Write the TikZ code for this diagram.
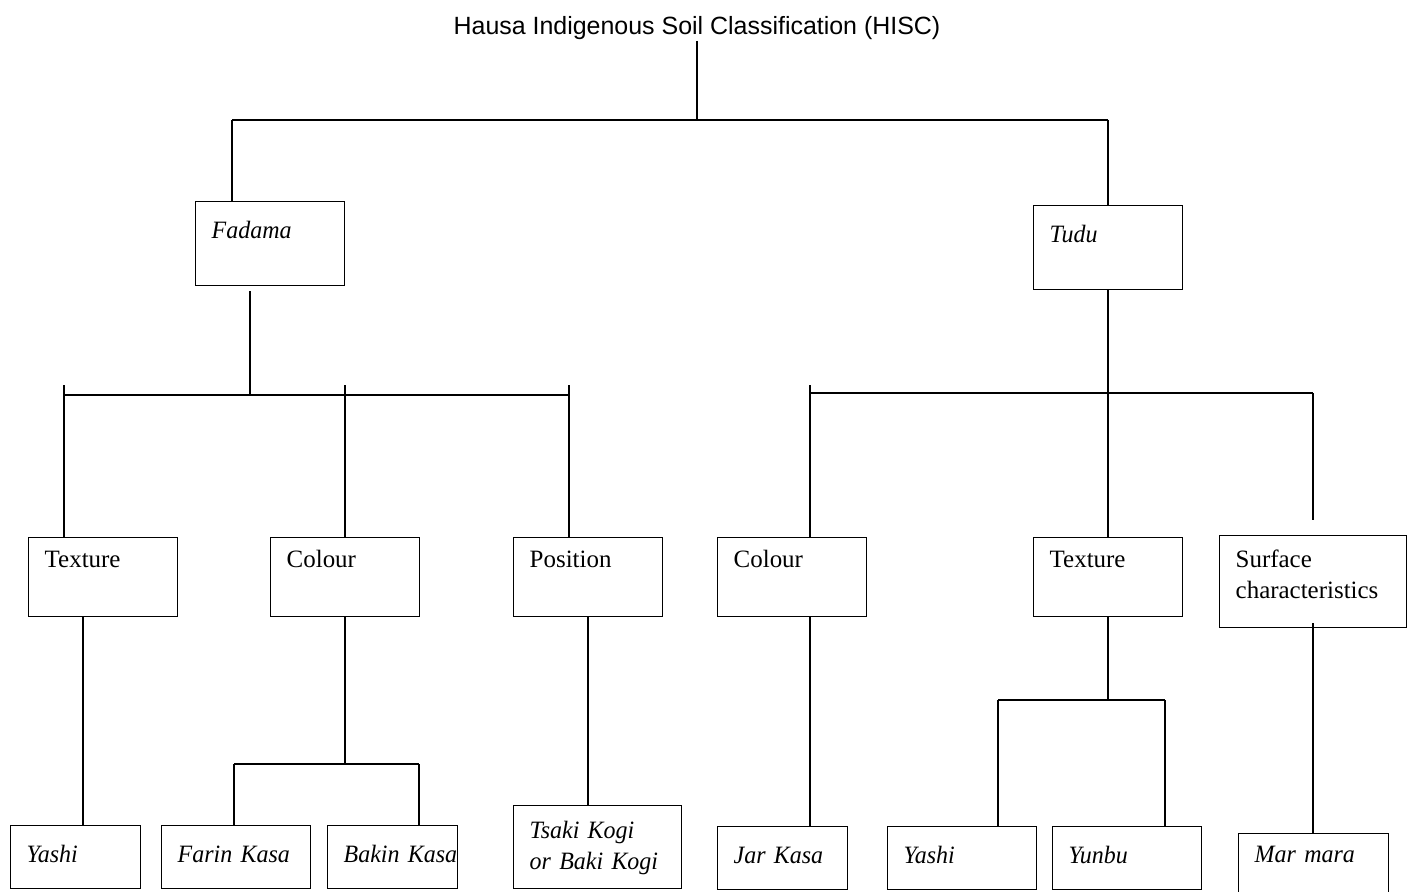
\documentclass[tikz,border=0pt]{standalone}
\usepackage{fontspec}
\setmainfont{Liberation Serif}[ItalicFeatures={FakeStretch=0.96}]
\setsansfont{Liberation Sans}
\usetikzlibrary{calc}

\begin{document}
\begin{tikzpicture}[x=0.02cm,y=-0.02cm,line width=0.8pt,
    boite/.style={draw,anchor=north west,align=left,inner xsep=0.32cm,inner ysep=0pt,
      font=\fontsize{14.2}{17.6}\selectfont},
    lnormale/.style={text width=2.34cm},
    letroite/.style={text width=1.96cm},
    niveau1/.style={text height=0.74cm,text depth=0.94cm},
    niveau2/.style={text height=0.60cm,text depth=0.98cm},
    niveaubas/.style={text height=0.74cm,text depth=0.52cm}]

    \useasboundingbox (0,0) rectangle (1411,892);

    % Titre de la classification
    \node[font=\sffamily\fontsize{14.2}{17}\selectfont,inner sep=0pt,anchor=base] (titre) at (697,35) {Hausa Indigenous Soil Classification (HISC)};

    % Les deux grandes classes
    \node[boite,lnormale,niveau1] (fadama) at (195,201) {\itshape Fadama};
    \node[boite,lnormale,niveau1] (tudu) at (1033,205) {\itshape Tudu};

    % Les criteres
    \node[boite,lnormale,niveau2] (texture1) at (28,537) {Texture};
    \node[boite,lnormale,niveau2] (couleur1) at (270,537) {Colour};
    \node[boite,lnormale,niveau2] (position) at (513,537) {Position};
    \node[boite,lnormale,niveau2] (couleur2) at (717,537) {Colour};
    \node[boite,lnormale,niveau2] (texture2) at (1033,537) {Texture};
    \node[boite,text width=3.10cm,text height=0.64cm,text depth=1.20cm] (surface) at (1219,535) {Surface\\characteristics};

    % Les sols
    \node[boite,letroite,niveaubas] (yashi1) at (10,825) {\itshape Yashi};
    \node[boite,lnormale,niveaubas] (farin) at (161,825) {\itshape Farin~Kasa};
    \node[boite,letroite,niveaubas] (bakin) at (327,825) {\itshape Bakin~Kasa};
    \node[boite,text width=2.72cm,text height=0.66cm,text depth=1.00cm] (tsaki) at (513,805) {\itshape Tsaki~Kogi\\or~Baki~Kogi};
    \node[boite,letroite,niveaubas] (jar) at (717,826) {\itshape Jar~Kasa};
    \node[boite,lnormale,niveaubas] (yashi2) at (887,826) {\itshape Yashi};
    \node[boite,lnormale,niveaubas] (yunbu) at (1052,826) {\itshape Yunbu};
    \node[boite,text width=2.36cm,text height=0.58cm,text depth=0.68cm] (marmara) at (1238,833) {\itshape Mar~mara};

    % Points de raccordement
    \coordinate (racine) at (697,120);
    \coordinate (gauche) at (232,120);
    \coordinate (droite) at (1108,120);
    \coordinate (fa) at (250,395);
    \coordinate (fg) at (64,385);
    \coordinate (fc) at (345,385);
    \coordinate (fd) at (569,385);
    \coordinate (ta) at (1108,393);
    \coordinate (tg) at (810,385);
    \coordinate (td) at (1313,393);
    \coordinate (tdbas) at (1313,520);
    \coordinate (v1) at (83,0);
    \coordinate (cb) at (345,764);
    \coordinate (cbg) at (234,764);
    \coordinate (cbd) at (419,764);
    \coordinate (xb) at (1108,700);
    \coordinate (xbg) at (998,700);
    \coordinate (xbd) at (1165,700);

    % Branches du haut
    \draw (titre.south) -- (racine);
    \draw (gauche) -- (droite);
    \draw (gauche) -- (gauche |- fadama.north);
    \draw (droite) -- (droite |- tudu.north);

    % Branches de Fadama
    \draw ($(fadama.south -| fa)+(0,5)$) -- (fa);
    \draw (fg |- fa) -- (fd |- fa);
    \draw (fg) -- (fg |- texture1.north);
    \draw (fc) -- (fc |- couleur1.north);
    \draw (fd) -- (fd |- position.north);

    % Branches de Tudu
    \draw (ta |- tudu.south) -- (ta |- texture2.north);
    \draw (tg |- ta) -- (td);
    \draw (tg) -- (tg |- couleur2.north);
    \draw (td) -- (tdbas);

    % Vers les sols (Fadama)
    \draw (v1 |- texture1.south) -- (v1 |- yashi1.north);
    \draw (cb |- couleur1.south) -- (cb);
    \draw (cbg) -- (cbd);
    \draw (cbg) -- (cbg |- farin.north);
    \draw (cbd) -- (cbd |- bakin.north);
    \draw (position.south) -- (position.south |- tsaki.north);

    % Vers les sols (Tudu)
    \draw (tg |- couleur2.south) -- (tg |- jar.north);
    \draw (xb |- texture2.south) -- (xb);
    \draw (xbg) -- (xbd);
    \draw (xbg) -- (xbg |- yashi2.north);
    \draw (xbd) -- (xbd |- yunbu.north);
    \draw ($(td |- surface.south)+(0,-5)$) -- (td |- marmara.north);
\end{tikzpicture}
\end{document}
